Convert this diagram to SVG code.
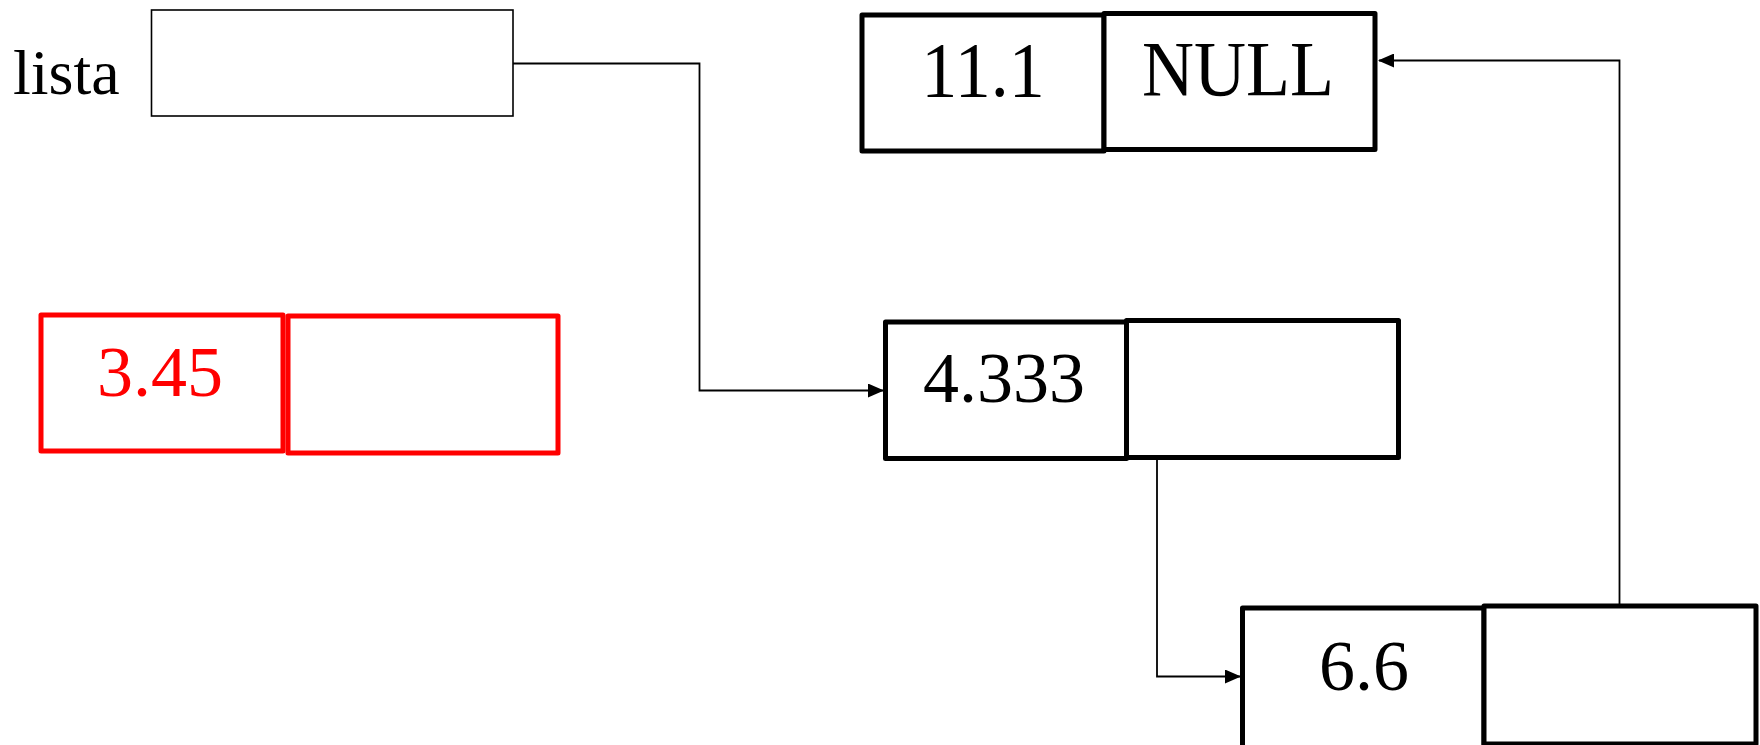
<svg xmlns="http://www.w3.org/2000/svg" width="1760" height="745" viewBox="0 0 1760 745">
<style>
.cell{fill:#fff;stroke:#000;stroke-width:5;stroke-linejoin:round}
.red{stroke:#ff0000}
.ptr{fill:#fff;stroke:#000;stroke-width:1.6}
.val{font-family:"Liberation Serif","Times New Roman",serif;font-size:72px;text-anchor:middle;fill:#000}
.lbl{font-family:"Liberation Serif","Times New Roman",serif;font-size:64px;fill:#000}
.conn{fill:none;stroke:#000;stroke-width:1.8}
</style>
<defs>
<marker id="arr" markerWidth="16" markerHeight="14" refX="15" refY="7" orient="auto" markerUnits="userSpaceOnUse">
<path d="M0,0 L16,7 L0,14 Z" fill="#000"/>
</marker>
</defs>
<rect width="1760" height="745" fill="#fff"/>
<g id="lista">
<text class="lbl" x="13" y="94">lista</text>
<rect class="ptr" x="151.5" y="10" width="361.5" height="106"/>
</g>
<g id="node-11-1">
<rect class="cell" x="862" y="15" width="242" height="136"/>
<rect class="cell" x="1104" y="13.5" width="271" height="136"/>
<text class="val" transform="translate(983,96) scale(1,1.08)">11.1</text>
<text class="val" transform="translate(1238,95) scale(1,1.08)">NULL</text>
</g>
<g id="node-3-45">
<rect class="cell red" x="41" y="315" width="242" height="136"/>
<rect class="cell red" x="288" y="316" width="270" height="137"/>
<text class="val" x="160" y="396" style="fill:#ff0000">3.45</text>
</g>
<g id="node-4-333">
<rect class="cell" x="885.5" y="322" width="241" height="136.5"/>
<rect class="cell" x="1126.5" y="320.5" width="272" height="137"/>
<text class="val" x="1004" y="402">4.333</text>
</g>
<g id="node-6-6">
<rect class="cell" x="1242.5" y="608" width="241.5" height="140"/>
<rect class="cell" x="1484" y="606" width="272" height="138"/>
<text class="val" x="1364" y="690">6.6</text>
</g>
<g id="connectors">
<path class="conn" d="M513,63.5 H699.5 V390.5 H883" marker-end="url(#arr)"/>
<path class="conn" d="M1157,460 V676.5 H1240" marker-end="url(#arr)"/>
<path class="conn" d="M1619.5,606 V60.5 H1379" marker-end="url(#arr)"/>
</g>
</svg>
